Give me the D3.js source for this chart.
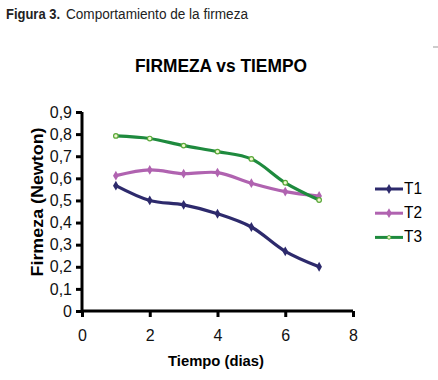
<!DOCTYPE html>
<html>
<head>
<meta charset="utf-8">
<script src="https://cdn.jsdelivr.net/npm/d3@7"></script>
<style>
  body { margin: 0; background: #fff; }
  svg { display: block; }
</style>
</head>
<body>
<svg id="chart" width="438" height="380"></svg>
<script>
// data
const days = [1, 2, 3, 4, 5, 6, 7];
const t1 = [0.567, 0.50, 0.48, 0.44, 0.38, 0.27, 0.20];
const t2 = [0.612, 0.638, 0.621, 0.626, 0.578, 0.54, 0.52];
const t3 = [0.792, 0.78, 0.748, 0.721, 0.688, 0.58, 0.502];
const seriesNames = ["T1", "T2", "T3"];
const seriesColors = ["#2d2a6c", "#b063b0", "#1e8a3e"];
const yTicks = [0, 0.1, 0.2, 0.3, 0.4, 0.5, 0.6, 0.7, 0.8, 0.9];
const xTicks = [0, 2, 4, 6, 8];

const series = [t1, t2, t3].map((vals, i) => ({
  name: seriesNames[i],
  color: seriesColors[i],
  points: days.map((d, j) => ({ x: d, y: vals[j] }))
}));

const font = "'Liberation Sans', Arial, sans-serif";
const svg = d3.select("#chart");

// caption, squeezed to look condensed
svg.append("text")
  .attr("x", 6).attr("y", 18.5)
  .attr("textLength", 54)
  .attr("lengthAdjust", "spacingAndGlyphs")
  .style("font-family", font)
  .style("font-size", "15.5px")
  .style("font-weight", "bold")
  .style("fill", "#222")
  .text("Figura 3.");
svg.append("text")
  .attr("x", 66).attr("y", 18.5)
  .attr("textLength", 182)
  .attr("lengthAdjust", "spacingAndGlyphs")
  .style("font-family", font)
  .style("font-size", "15.5px")
  .style("fill", "#222")
  .text("Comportamiento de la firmeza");

// small mark at top right
svg.append("line")
  .attr("x1", 433).attr("x2", 438).attr("y1", 47).attr("y2", 47)
  .attr("stroke", "#999").attr("stroke-width", 1);

svg.append("text")
  .attr("x", 221).attr("y", 72)
  .attr("text-anchor", "middle")
  .attr("textLength", 172)
  .attr("lengthAdjust", "spacingAndGlyphs")
  .style("font-family", font)
  .style("font-weight", "bold")
  .style("font-size", "17.5px")
  .text("FIRMEZA vs TIEMPO");

const x = d3.scaleLinear().domain([0, 8]).range([82, 353]);
const y = d3.scaleLinear().domain([0, 0.9]).range([311, 112]);

const fmt = d => d3.format(".1f")(d).replace(".", ",");

const yAxis = svg.append("g")
  .attr("transform", "translate(82,0)")
  .call(d3.axisLeft(y).tickValues(yTicks).tickSize(6).tickPadding(4)
    .tickFormat(d => d === 0 ? "0" : fmt(d)));

const xAxis = svg.append("g")
  .attr("transform", "translate(0,311)")
  .call(d3.axisBottom(x).tickValues(xTicks).tickSize(6).tickPadding(13)
    .tickFormat(d3.format("d")));

[yAxis, xAxis].forEach(a => {
  a.select(".domain").attr("stroke", "#000").attr("stroke-width", 3);
  a.selectAll(".tick line").attr("stroke", "#000").attr("stroke-width", 3);
  a.selectAll("text")
    .style("font-family", font)
    .style("font-size", "16px")
    .style("fill", "#111");
});
// domains without end caps
yAxis.select(".domain").attr("d", `M0,${y(0.9)}V${y(0)}`);
xAxis.select(".domain").attr("d", `M${x(0)},0H${x(8)}`);

svg.append("text")
  .attr("transform", "translate(43,202) rotate(-90)")
  .attr("text-anchor", "middle")
  .attr("textLength", 149)
  .attr("lengthAdjust", "spacingAndGlyphs")
  .style("font-family", font)
  .style("font-weight", "bold")
  .style("font-size", "16px")
  .text("Firmeza (Newton)");

svg.append("text")
  .attr("x", 216).attr("y", 366)
  .attr("text-anchor", "middle")
  .attr("textLength", 96)
  .attr("lengthAdjust", "spacingAndGlyphs")
  .style("font-family", font)
  .style("font-weight", "bold")
  .style("font-size", "15px")
  .text("Tiempo (dias)");

const line = d3.line()
  .x(d => x(d.x))
  .y(d => y(d.y))
  .curve(d3.curveCatmullRom.alpha(0.5));

const diamond = d3.symbol().type(d3.symbolDiamond).size(28);

series.forEach((s, i) => {
  const g = svg.append("g");
  g.append("path")
    .datum(s.points)
    .attr("d", line)
    .attr("fill", "none")
    .attr("stroke", s.color)
    .attr("stroke-width", 3.2);
  if (i < 2) {
    g.selectAll("path.m").data(s.points).enter().append("path")
      .attr("class", "m")
      .attr("d", diamond)
      .attr("transform", d => `translate(${x(d.x)},${y(d.y)})`)
      .attr("fill", s.color);
  } else {
    g.selectAll("circle").data(s.points).enter().append("circle")
      .attr("cx", d => x(d.x)).attr("cy", d => y(d.y))
      .attr("r", 2.3)
      .attr("fill", "#eef7d0")
      .attr("stroke", "#5aa83a").attr("stroke-width", 1.2);
  }

  // legend
  const ly = 189 + i * 24.2;
  const lg = svg.append("g");
  lg.append("line")
    .attr("x1", 375).attr("x2", 403).attr("y1", ly).attr("y2", ly)
    .attr("stroke", s.color).attr("stroke-width", 3);
  if (i < 2) {
    lg.append("path").attr("d", diamond)
      .attr("transform", `translate(389,${ly})`).attr("fill", s.color);
  } else {
    lg.append("circle").attr("cx", 389).attr("cy", ly).attr("r", 1.8)
      .attr("fill", "#eef7d0").attr("stroke", "#5aa83a").attr("stroke-width", 1);
  }
  lg.append("text")
    .attr("x", 404).attr("y", ly + 4.5)
    .attr("textLength", 18)
    .attr("lengthAdjust", "spacingAndGlyphs")
    .style("font-family", font)
    .style("font-size", "16.5px")
    .text(s.name);
});
</script>
</body>
</html>
